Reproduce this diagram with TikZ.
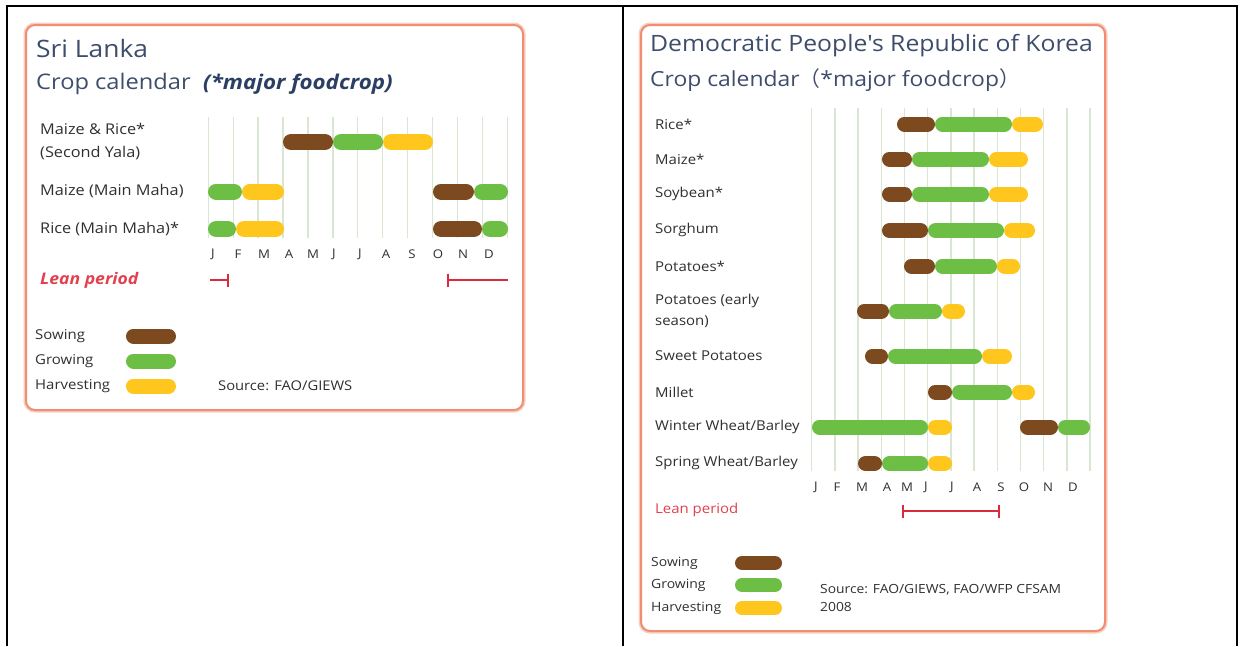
\documentclass[tikz,border=0pt]{standalone}
\usepackage{fontspec}
\setmainfont[FakeStretch=1.1]{Open Sans}
\newfontfamily\plainquote[FakeStretch=1.1]{Open Sans}
\newfontfamily\cjk{Noto Sans CJK SC}
\begin{document}
\definecolor{frame}{HTML}{EF8E72}
\definecolor{framesoft}{HTML}{F8CDBE}
\definecolor{titleblue}{HTML}{3E4D6C}
\definecolor{navy}{HTML}{2B3E63}
\definecolor{labelgray}{HTML}{303030}
\definecolor{sowc}{HTML}{7D4A1F}
\definecolor{growc}{HTML}{6CBE45}
\definecolor{harvc}{HTML}{FFC61E}
\definecolor{gridc}{HTML}{D9E6D2}
\definecolor{leanc}{HTML}{D92B3C}
\definecolor{leantxt}{HTML}{E2404E}
% bar from x1 to x2 (outer ends) at height y, thickness t
\newcommand\cropbar[5]{\draw[#1, line width=#5pt] ({#2+#5/2},#4) -- ({#3-#5/2},#4);}
\begin{tikzpicture}[x=1pt,y=-1pt,
  panel/.style={draw=frame, line width=2pt, rounded corners=9pt, fill=white},
  panelglow/.style={draw=framesoft, line width=5pt, rounded corners=9pt},
  title/.style={anchor=west, inner sep=0pt, text=titleblue, font=\fontsize{24}{26}\selectfont},
  croplabel/.style={anchor=west, inner sep=0pt, text=labelgray, align=left, font=\fontsize{14.8}{23}\selectfont},
  croplabelR/.style={anchor=west, inner sep=0pt, text=labelgray, align=left, font=\fontsize{13.6}{21}\selectfont},
  month/.style={inner sep=0pt, text=labelgray, font=\fontsize{12}{14}\selectfont},
  legendtxt/.style={anchor=west, inner sep=0pt, text=labelgray, font=\fontsize{13.6}{14}\selectfont},
  sowbar/.style={draw=sowc, line cap=round},
  growbar/.style={draw=growc, line cap=round},
  harvbar/.style={draw=harvc, line cap=round},
  gridline/.style={draw=gridc, line width=1.3pt},
  lean/.style={draw=leanc, line width=2.8pt}]
\useasboundingbox (0,0) rectangle (1240,646);

% table rules
\draw[line width=2.2pt] (7,646) -- (7,6) -- (1237,6) -- (1237,646);
\draw[line width=2.2pt] (623,6) -- (623,646);

% ---------------- Sri Lanka ----------------
\draw[panelglow] (26,25) rectangle (523,410);
\draw[panel] (26,25) rectangle (523,410);

\node[title] (slT) at (36,48) {Sri Lanka};
\node[title, font=\fontsize{21.5}{24}\selectfont] (slC) at (36,84) {Crop calendar};
\node[anchor=west, inner sep=0pt, text=navy, font=\fontsize{20.3}{22}\selectfont\bfseries\itshape] (slM) at (203,84) {(*major foodcrop)};

\foreach \i in {0,...,12}
  \draw[gridline] ({208.3+24.92*\i},117) -- ({208.3+24.92*\i},238);

\node[croplabel] (slL1) at (40,142) {Maize \& Rice*\\(Second Yala)};
\node[croplabel] (slL2) at (40,191) {Maize (Main Maha)};
\node[croplabel] (slL3) at (40,229) {Rice (Main Maha)*};

\cropbar{sowbar}{283}{333}{142}{16}
\cropbar{growbar}{333}{383}{142}{16}
\cropbar{harvbar}{383}{433}{142}{16}

\cropbar{growbar}{208}{242}{191.5}{16}
\cropbar{harvbar}{242}{284}{191.5}{16}
\cropbar{sowbar}{433}{474}{191.5}{16}
\cropbar{growbar}{474}{508}{191.5}{16}

\cropbar{growbar}{208}{236}{229}{16}
\cropbar{harvbar}{236}{284}{229}{16}
\cropbar{sowbar}{433}{482}{229}{16}
\cropbar{growbar}{482}{508}{229}{16}

\foreach \m/\x [count=\k] in {J/213,F/238,M/264,A/289,M/313,J/334,J/360,A/386,S/412,O/438,N/463,D/489}
  \node[month] (slm\k) at (\x,254) {\m};

\node[anchor=west, inner sep=0pt, text=leantxt, font=\fontsize{16}{18}\selectfont\bfseries\itshape] (slLean) at (40,280) {Lean period};
\draw[lean] (210,280) -- (228,280);
\draw[lean] (228,273.5) -- (228,286.5);
\draw[lean] (448,280) -- (508,280);
\draw[lean] (448,273.5) -- (448,286.5);

\node[legendtxt] (slS) at (35,336) {Sowing};
\node[legendtxt] (slG) at (35,361) {Growing};
\node[legendtxt] (slH) at (35,386) {Harvesting};
\cropbar{sowbar}{126}{176}{336}{15}
\cropbar{growbar}{126}{176}{361}{15}
\cropbar{harvbar}{126}{176}{386}{15}
\node[legendtxt, font=\fontsize{13.4}{14}\selectfont] (slSrc) at (218,386) {Source: FAO/GIEWS};

% ---------------- DPR Korea ----------------
\draw[panelglow] (641,25) rectangle (1105,631);
\draw[panel] (641,25) rectangle (1105,631);

\node[title, font=\fontsize{22.5}{24}\selectfont\plainquote] (kpT) at (650,46) {Democratic People's Republic of Korea};
\node[title, font=\fontsize{20.8}{22}\selectfont] (kpC) at (650,80) {Crop calendar{\cjk （}*major foodcrop{\cjk ）}};

\foreach \i in {0,...,12}
  \draw[gridline] ({811.7+23.2*\i},108) -- ({811.7+23.2*\i},471);

\node[croplabelR] (kpL1) at (655,124) {Rice*};
\node[croplabelR] (kpL2) at (655,159) {Maize*};
\node[croplabelR] (kpL3) at (655,194) {Soybean*};
\node[croplabelR] (kpL4) at (655,230) {Sorghum};
\node[croplabelR] (kpL5) at (655,266) {Potatoes*};
\node[croplabelR] (kpL6) at (655,311) {Potatoes (early\\season)};
\node[croplabelR] (kpL7) at (655,356) {Sweet Potatoes};
\node[croplabelR] (kpL8) at (655,392) {Millet};
\node[croplabelR] (kpL9) at (655,427) {Winter Wheat/Barley};
\node[croplabelR] (kpL10) at (655,463) {Spring Wheat/Barley};

% Rice
\cropbar{sowbar}{897}{935}{124}{15}
\cropbar{growbar}{935}{1012}{124}{15}
\cropbar{harvbar}{1012}{1043}{124}{15}
% Maize
\cropbar{sowbar}{882}{912}{159}{15}
\cropbar{growbar}{912}{989}{159}{15}
\cropbar{harvbar}{989}{1028}{159}{15}
% Soybean
\cropbar{sowbar}{882}{912}{194}{15}
\cropbar{growbar}{912}{989}{194}{15}
\cropbar{harvbar}{989}{1028}{194}{15}
% Sorghum
\cropbar{sowbar}{882}{928}{230.5}{15}
\cropbar{growbar}{928}{1004}{230.5}{15}
\cropbar{harvbar}{1004}{1035}{230.5}{15}
% Potatoes
\cropbar{sowbar}{904}{935}{266}{15}
\cropbar{growbar}{935}{997}{266}{15}
\cropbar{harvbar}{997}{1020}{266}{15}
% Potatoes (early season)
\cropbar{sowbar}{857}{889}{311}{15}
\cropbar{growbar}{889}{942}{311}{15}
\cropbar{harvbar}{942}{965}{311}{15}
% Sweet Potatoes
\cropbar{sowbar}{865}{888}{356}{15}
\cropbar{growbar}{888}{982}{356}{15}
\cropbar{harvbar}{982}{1012}{356}{15}
% Millet
\cropbar{sowbar}{928}{952}{392}{15}
\cropbar{growbar}{952}{1012}{392}{15}
\cropbar{harvbar}{1012}{1035}{392}{15}
% Winter Wheat/Barley
\cropbar{growbar}{812}{928}{427}{15}
\cropbar{harvbar}{928}{952}{427}{15}
\cropbar{sowbar}{1020}{1058}{427}{15}
\cropbar{growbar}{1058}{1090}{427}{15}
% Spring Wheat/Barley
\cropbar{sowbar}{858}{882}{463.5}{15}
\cropbar{growbar}{882}{928}{463.5}{15}
\cropbar{harvbar}{928}{952}{463.5}{15}

\foreach \m/\x [count=\k] in {J/816,F/837,M/862,A/887,M/907,J/926,J/952,A/977,S/1001,O/1024,N/1048,D/1073}
  \node[month] (kpm\k) at (\x,487) {\m};

\node[anchor=west, inner sep=0pt, text=leantxt, font=\fontsize{13.6}{15}\selectfont] (kpLean) at (655,510) {Lean period};
\draw[lean] (903,511) -- (999,511);
\draw[lean] (903,504.5) -- (903,517.5);
\draw[lean] (999,504.5) -- (999,517.5);

\node[legendtxt, font=\fontsize{12.7}{14}\selectfont] (kpS) at (651,563) {Sowing};
\node[legendtxt, font=\fontsize{12.7}{14}\selectfont] (kpG) at (651,585) {Growing};
\node[legendtxt, font=\fontsize{12.7}{14}\selectfont] (kpH) at (651,608) {Harvesting};
\cropbar{sowbar}{735}{782}{563}{14}
\cropbar{growbar}{735}{782}{585}{14}
\cropbar{harvbar}{735}{782}{608}{14}
\node[anchor=north west, inner sep=0pt, text=labelgray, align=left, font=\fontsize{12.6}{18}\selectfont] (kpSrc) at (820,584) {Source: FAO/GIEWS, FAO/WFP CFSAM\\2008};
\end{tikzpicture}
\end{document}
